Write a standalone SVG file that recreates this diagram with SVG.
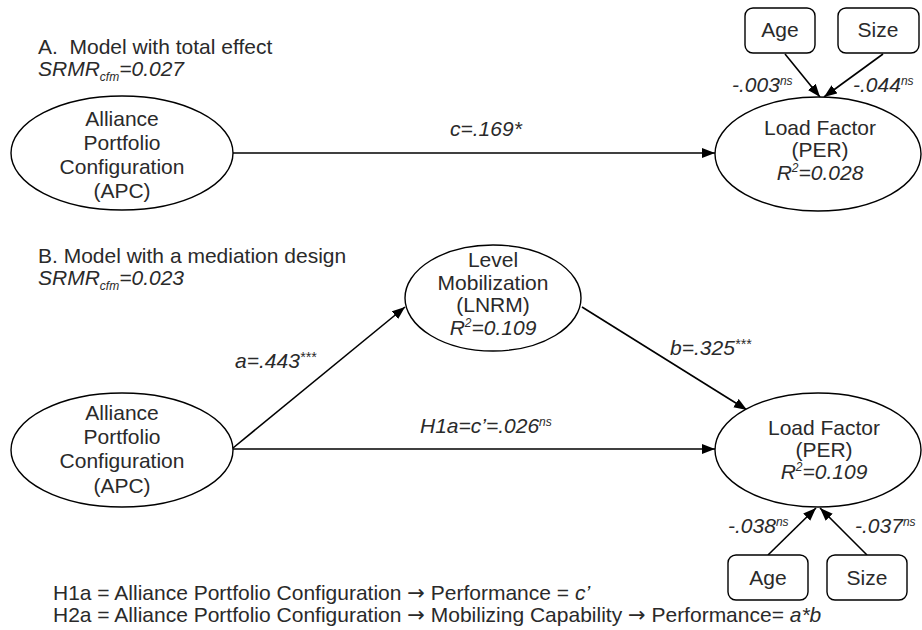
<svg xmlns="http://www.w3.org/2000/svg" width="922" height="630" viewBox="0 0 922 630">
<defs>
<marker id="ah" markerUnits="userSpaceOnUse" markerWidth="14" markerHeight="11" refX="13" refY="5" orient="auto">
<path d="M0,0 L13,5 L0,10 z" fill="#000"/>
</marker>
<style>
text{font-family:"Liberation Sans",Arial,sans-serif;font-size:21px;fill:#2a2a2a;white-space:pre}
.i{font-style:italic}
.c{text-anchor:middle}
.sm{font-size:12px}
.st{font-size:14px}
.ar{font-family:"DejaVu Sans",sans-serif;font-size:21px}
.node{fill:#fff;stroke:#000;stroke-width:1.4}
.edge{fill:none;stroke:#000;stroke-width:1.6;marker-end:url(#ah)}
</style>
</defs>
<rect width="922" height="630" fill="#fff"/>

<g id="titles">
<text x="38" y="54" xml:space="preserve">A.  Model with total effect</text>
<text x="38" y="76" class="i">SRMR<tspan class="sm" dy="5">cfm</tspan><tspan dy="-5">=0.027</tspan></text>
<text x="38" y="263">B. Model with a mediation design</text>
<text x="38" y="285" class="i">SRMR<tspan class="sm" dy="5">cfm</tspan><tspan dy="-5">=0.023</tspan></text>
</g>

<g id="connectors">
<path class="edge" d="M233,153 L715,153"/>
<path class="edge" d="M785,54 L820,97"/>
<path class="edge" d="M883,54 L824,97"/>
<path class="edge" d="M233,448 L405,307"/>
<path class="edge" d="M582,307 L747,410"/>
<path class="edge" d="M233,449 L715,449"/>
<path class="edge" d="M768,555 L816,508"/>
<path class="edge" d="M867,555 L820,508"/>
</g>

<g id="edge-labels">
<text x="450" y="136" class="i">c=.169*</text>
<text x="732" y="92" class="i">-.003<tspan class="sm" dy="-7">ns</tspan></text>
<text x="853" y="92" class="i">-.044<tspan class="sm" dy="-7">ns</tspan></text>
<text x="235" y="368" class="i">a=.443<tspan class="st" dy="-6">***</tspan></text>
<text x="670" y="355" class="i">b=.325<tspan class="st" dy="-6">***</tspan></text>
<text x="420" y="433" class="i">H1a=c’=.026<tspan class="sm" dy="-7">ns</tspan></text>
<text x="728" y="533" class="i">-.038<tspan class="sm" dy="-7">ns</tspan></text>
<text x="855" y="533" class="i">-.037<tspan class="sm" dy="-7">ns</tspan></text>
</g>

<g id="apc-a">
<ellipse class="node" cx="122" cy="153" rx="111" ry="57"/>
<text class="c" x="122" y="126">Alliance</text>
<text class="c" x="122" y="150">Portfolio</text>
<text class="c" x="122" y="174">Configuration</text>
<text class="c" x="122" y="198">(APC)</text>
</g>

<g id="per-a">
<ellipse class="node" cx="818" cy="154" rx="103" ry="57"/>
<text class="c" x="820" y="135">Load Factor</text>
<text class="c" x="820" y="157">(PER)</text>
<text class="c i" x="820" y="180">R<tspan class="sm" dy="-8">2</tspan><tspan dy="8">=0.028</tspan></text>
</g>

<g id="age-a">
<rect class="node" x="745" y="8" width="70" height="45" rx="8"/>
<text class="c" x="780" y="37">Age</text>
</g>
<g id="size-a">
<rect class="node" x="838" y="8" width="81" height="45" rx="8"/>
<text class="c" x="878" y="37">Size</text>
</g>

<g id="lnrm">
<ellipse class="node" cx="493" cy="298" rx="88" ry="53"/>
<text class="c" x="493" y="267">Level</text>
<text class="c" x="493" y="290">Mobilization</text>
<text class="c" x="493" y="312">(LNRM)</text>
<text class="c i" x="493" y="335">R<tspan class="sm" dy="-8">2</tspan><tspan dy="8">=0.109</tspan></text>
</g>

<g id="apc-b">
<ellipse class="node" cx="122" cy="450" rx="111" ry="57"/>
<text class="c" x="122" y="420">Alliance</text>
<text class="c" x="122" y="444">Portfolio</text>
<text class="c" x="122" y="468">Configuration</text>
<text class="c" x="122" y="493">(APC)</text>
</g>

<g id="per-b">
<ellipse class="node" cx="818" cy="450" rx="103" ry="57"/>
<text class="c" x="824" y="435">Load Factor</text>
<text class="c" x="824" y="457">(PER)</text>
<text class="c i" x="824" y="479">R<tspan class="sm" dy="-8">2</tspan><tspan dy="8">=0.109</tspan></text>
</g>

<g id="age-b">
<rect class="node" x="728" y="555" width="80" height="45" rx="8"/>
<text class="c" x="768" y="585">Age</text>
</g>
<g id="size-b">
<rect class="node" x="827" y="555" width="80" height="45" rx="8"/>
<text class="c" x="867" y="585">Size</text>
</g>

<g id="notes">
<text x="53" y="600">H1a = Alliance Portfolio Configuration <tspan class="ar">→</tspan> Performance = <tspan class="i">c’</tspan></text>
<text x="53" y="622">H2a = Alliance Portfolio Configuration <tspan class="ar">→</tspan> Mobilizing Capability <tspan class="ar">→</tspan> Performance= <tspan class="i">a*b</tspan></text>
</g>
</svg>
